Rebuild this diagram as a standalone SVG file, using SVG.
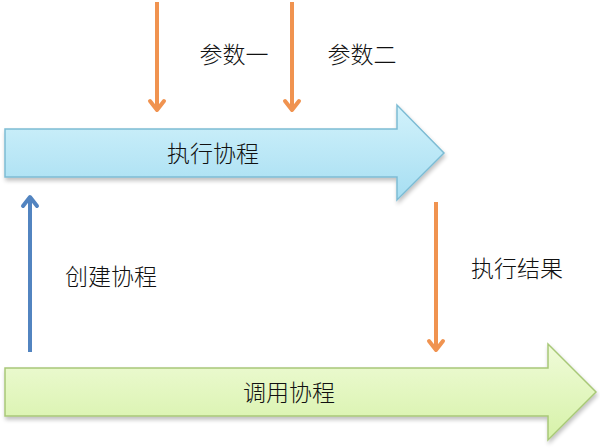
<svg xmlns="http://www.w3.org/2000/svg" width="600" height="448" viewBox="0 0 600 448">
<defs>
<linearGradient id="gb" x1="0" y1="0" x2="0" y2="1">
<stop offset="0" stop-color="#d2f2fb"/>
<stop offset="1" stop-color="#a6def2"/>
</linearGradient>
<linearGradient id="gg" x1="0" y1="0" x2="0" y2="1">
<stop offset="0" stop-color="#f0fbd9"/>
<stop offset="1" stop-color="#d6f2a8"/>
</linearGradient>
<filter id="sh" x="-5%" y="-10%" width="110%" height="130%">
<feGaussianBlur in="SourceAlpha" stdDeviation="2"/>
<feOffset dx="1" dy="3"/>
<feComponentTransfer><feFuncA type="linear" slope="0.25"/></feComponentTransfer>
<feMerge><feMergeNode/><feMergeNode in="SourceGraphic"/></feMerge>
</filter>
</defs>
<style>
text{font-family:"Noto Sans CJK SC","Noto Sans CJK TC",sans-serif;font-size:23px;font-weight:300;fill:#111;}
.o{stroke:#f09350;stroke-width:4;fill:none;}
.oh{fill:none;stroke:#f09350;stroke-width:4;stroke-linecap:round;stroke-linejoin:round;}
.b{stroke:#5284c0;stroke-width:4;fill:none;}
.bh{fill:none;stroke:#5284c0;stroke-width:4;stroke-linecap:round;stroke-linejoin:round;}
</style>
<g id="exec">
<path d="M5,129 H397 V105 L444,153 L397,200 V177 H5 Z" fill="url(#gb)" stroke="#7dbcd4" stroke-width="1.5" filter="url(#sh)"/>
<text x="213" y="162" text-anchor="middle">执行协程</text>
</g>
<g id="call">
<path d="M5,368 H548 V344 L596,392 L548,440 V416 H5 Z" fill="url(#gg)" stroke="#a8c878" stroke-width="1.5" filter="url(#sh)"/>
<text x="289" y="401" text-anchor="middle">调用协程</text>
</g>
<g id="connectors">
<line class="o" x1="157" y1="2" x2="157" y2="110"/>
<polyline class="oh" points="150,101 157,110 164,101"/>
<line class="o" x1="292" y1="2" x2="292" y2="110"/>
<polyline class="oh" points="285,101 292,110 299,101"/>
<line class="o" x1="436" y1="202" x2="436" y2="350"/>
<polyline class="oh" points="429,341 436,350 443,341"/>
<line class="b" x1="30" y1="352" x2="30" y2="197"/>
<polyline class="bh" points="23,206 30,197 37,206"/>
</g>
<g id="labels">
<text x="234" y="63" text-anchor="middle">参数一</text>
<text x="362" y="63" text-anchor="middle">参数二</text>
<text x="517" y="277" text-anchor="middle">执行结果</text>
<text x="111" y="285" text-anchor="middle">创建协程</text>
</g>
</svg>
